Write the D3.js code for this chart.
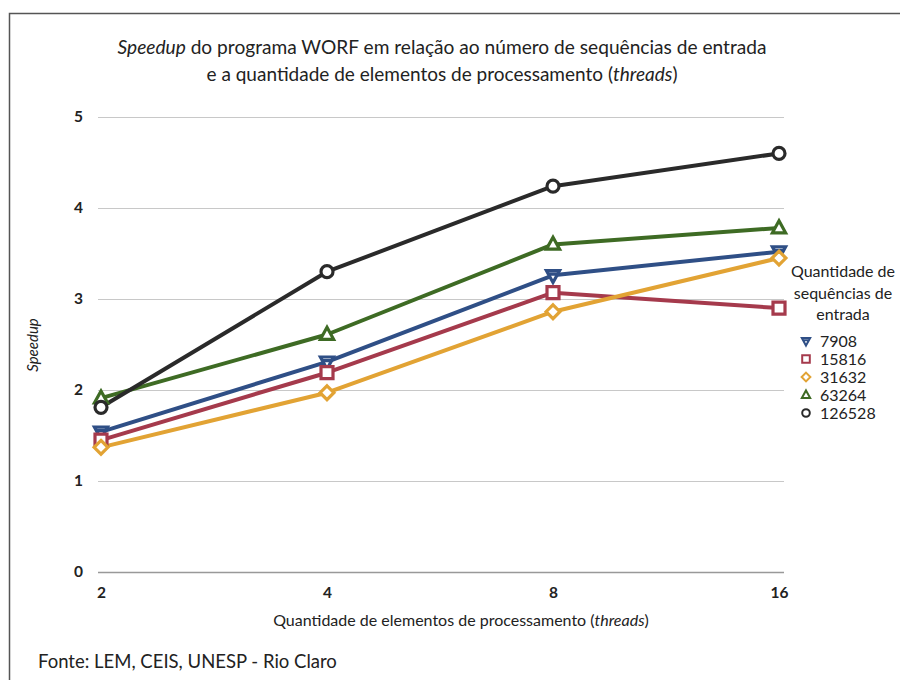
<!DOCTYPE html>
<html>
<head>
<meta charset="utf-8">
<script src="https://cdn.jsdelivr.net/npm/d3@7"></script>
<style>
  html, body { margin: 0; padding: 0; background: #fff; }
  svg { display: block; font-family: Lato, "Open Sans", sans-serif; }
</style>
</head>
<body>
<svg id="chart" width="900" height="680"></svg>
<script>
// Threads (categorical x axis) and y ticks
const threads = ["2", "4", "8", "16"];
const yTicks = [0, 1, 2, 3, 4, 5];

// Speedup per number of input sequences
const s7908   = [1.54, 2.31, 3.26, 3.52];
const s15816  = [1.45, 2.19, 3.07, 2.90];
const s31632  = [1.37, 1.97, 2.86, 3.45];
const s63264  = [1.91, 2.61, 3.60, 3.78];
const s126528 = [1.81, 3.30, 4.24, 4.60];

const seriesNames = ["7908", "15816", "31632", "63264", "126528"];
const seriesValues = [s7908, s15816, s31632, s63264, s126528];
const seriesColors = ["#2f4f86", "#a53a4c", "#e2a334", "#3e6b24", "#2a2a2a"];
const seriesShapes = ["triDown", "square", "diamond", "triUp", "circle"];

const svg = d3.select("#chart");

// outer frame
svg.append("path")
  .attr("d", "M9.5,680 L9.5,13.5 L900,13.5")
  .attr("fill", "none").attr("stroke", "#555").attr("stroke-width", 1.5);

const x = d3.scalePoint().domain(threads).range([101, 779]);
const y = d3.scaleLinear().domain([0, 5]).range([572, 117]);

// gridlines
svg.append("g").selectAll("line").data(yTicks).join("line")
  .attr("x1", 98).attr("x2", 784)
  .attr("y1", d => y(d) + 0.5).attr("y2", d => y(d) + 0.5)
  .attr("stroke", d => d === 0 ? "#999" : "#c8c8c8")
  .attr("stroke-width", d => d === 0 ? 1.5 : 1);

// y axis labels
const yAxis = d3.axisLeft(y).tickValues(yTicks).tickSize(0).tickPadding(0).tickFormat(d3.format("d"));
const gy = svg.append("g").attr("transform", "translate(83,0)").call(yAxis);
gy.select(".domain").remove();
gy.selectAll("text").attr("font-size", 15.5).attr("font-weight", 700).attr("fill", "#222")
  .attr("font-family", "Lato, sans-serif");

// x axis labels
const xAxis = d3.axisBottom(x).tickSize(0).tickPadding(0);
const gx = svg.append("g").attr("transform", "translate(0,587)").call(xAxis);
gx.select(".domain").remove();
gx.selectAll("text").attr("font-size", 15.5).attr("font-weight", 700).attr("fill", "#222")
  .attr("font-family", "Lato, sans-serif");

// titles
const title = svg.append("text").attr("x", 442).attr("y", 54).attr("text-anchor", "middle")
  .attr("font-size", 19).attr("fill", "#222").attr("textLength", 649).attr("lengthAdjust", "spacingAndGlyphs");
title.append("tspan").attr("font-style", "italic").text("Speedup");
title.append("tspan").text(" do programa WORF em relação ao número de sequências de entrada");
const title2 = svg.append("text").attr("x", 442).attr("y", 81).attr("text-anchor", "middle")
  .attr("font-size", 19).attr("fill", "#222");
title2.append("tspan").text("e a quantidade de elementos de processamento (");
title2.append("tspan").attr("font-style", "italic").text("threads");
title2.append("tspan").text(")");

svg.append("text").attr("transform", "translate(38,345) rotate(-90)")
  .attr("text-anchor", "middle").attr("font-size", 15).attr("font-style", "italic")
  .attr("fill", "#222").text("Speedup");

const xt = svg.append("text").attr("x", 461).attr("y", 626).attr("text-anchor", "middle")
  .attr("font-size", 16).attr("fill", "#222");
xt.append("tspan").text("Quantidade de elementos de processamento (");
xt.append("tspan").attr("font-style", "italic").text("threads");
xt.append("tspan").text(")");

svg.append("text").attr("x", 38).attr("y", 668).attr("font-size", 18.5).attr("fill", "#222")
  .text("Fonte: LEM, CEIS, UNESP - Rio Claro");

// marker shapes
function markerPath(shape, r) {
  switch (shape) {
    case "square": return `M${-r},${-r}H${r}V${r}H${-r}Z`;
    case "diamond": return `M0,${-r * 1.15}L${r * 1.15},0L0,${r * 1.15}L${-r * 1.15},0Z`;
    case "triUp": return `M0,${-r * 1.2}L${r * 1.1},${r * 0.8}L${-r * 1.1},${r * 0.8}Z`;
    case "triDown": return `M0,${r * 1.2}L${r * 1.1},${-r * 0.8}L${-r * 1.1},${-r * 0.8}Z M${-r * 0.9},${-r * 0.2}H${r * 0.9}`;
    default: return `M${r},0A${r},${r} 0 1,1 ${-r},0A${r},${r} 0 1,1 ${r},0Z`;
  }
}

const line = d3.line().x((d, i) => x(threads[i])).y(d => y(d));
const plot = svg.append("g");
seriesValues.forEach((vals, k) => {
  plot.append("path").datum(vals).attr("d", line)
    .attr("fill", "none").attr("stroke", seriesColors[k]).attr("stroke-width", 4)
    .attr("stroke-linejoin", "round");
});
seriesValues.forEach((vals, k) => {
  plot.append("g").selectAll("path").data(vals).join("path")
    .attr("transform", (d, i) => `translate(${x(threads[i])},${y(d)})`)
    .attr("d", markerPath(seriesShapes[k], 6))
    .attr("fill", "#fff").attr("stroke", seriesColors[k]).attr("stroke-width", 3.2);
});

// legend
const lt = ["Quantidade de", "sequências de", "entrada"];
svg.append("g").selectAll("text").data(lt).join("text")
  .attr("x", 843).attr("y", (d, i) => 277 + i * 21.5).attr("text-anchor", "middle")
  .attr("font-size", 16).attr("fill", "#222").text(d => d);

const leg = svg.append("g").selectAll("g").data(seriesNames).join("g")
  .attr("transform", (d, i) => `translate(806,${341 + i * 18})`);
leg.append("path").attr("d", (d, i) => markerPath(seriesShapes[i], 3.8))
  .attr("fill", "#fff").attr("stroke", (d, i) => seriesColors[i]).attr("stroke-width", 2);
leg.append("text").attr("x", 14).attr("y", 5.5).attr("font-size", 16).attr("fill", "#222")
  .text(d => d);
</script>
</body>
</html>
